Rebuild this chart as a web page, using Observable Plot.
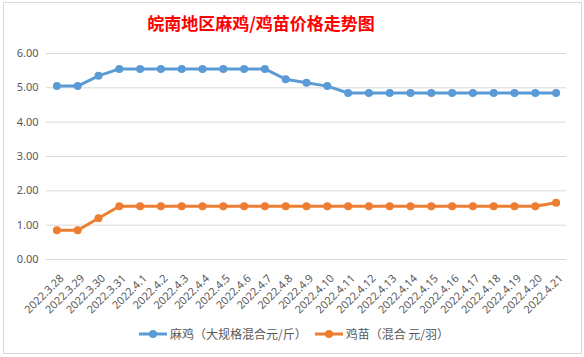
<!DOCTYPE html>
<html><head><meta charset="utf-8">
<script src="https://cdn.jsdelivr.net/npm/d3@7"></script>
<script src="https://cdn.jsdelivr.net/npm/@observablehq/plot@0.6"></script>
<style>
html,body{margin:0;padding:0;background:#fff;}
body{width:584px;height:357px;position:relative;overflow:hidden;font-family:"Noto Sans CJK SC","Noto Sans",sans-serif;}
#frame{position:absolute;left:3px;top:2px;width:577px;height:350px;border:1px solid #d9d9d9;}
#title{position:absolute;left:0;top:10px;width:522px;text-align:center;color:#ff0000;font-size:17px;font-weight:bold;}
#chart{position:absolute;left:0;top:0;}
#legend{position:absolute;left:0;top:325px;width:584px;box-sizing:border-box;padding-left:12px;display:flex;justify-content:center;font-size:12px;color:#595959;}
#legend .item{display:flex;align-items:center;gap:3px;margin-right:8px;}
</style></head>
<body>
<div id="frame"></div>
<div id="chart"></div>
<div id="title">皖南地区麻鸡/鸡苗价格走势图</div>
<div id="legend"></div>
<script>
const dates = ["2022.3.28","2022.3.29","2022.3.30","2022.3.31","2022.4.1","2022.4.2","2022.4.3","2022.4.4","2022.4.5","2022.4.6","2022.4.7","2022.4.8","2022.4.9","2022.4.10","2022.4.11","2022.4.12","2022.4.13","2022.4.14","2022.4.15","2022.4.16","2022.4.17","2022.4.18","2022.4.19","2022.4.20","2022.4.21"];
const majiPrice = [5.05,5.05,5.35,5.55,5.55,5.55,5.55,5.55,5.55,5.55,5.55,5.25,5.15,5.05,4.85,4.85,4.85,4.85,4.85,4.85,4.85,4.85,4.85,4.85,4.85];
const jimiaoPrice = [0.85,0.85,1.2,1.55,1.55,1.55,1.55,1.55,1.55,1.55,1.55,1.55,1.55,1.55,1.55,1.55,1.55,1.55,1.55,1.55,1.55,1.55,1.55,1.55,1.65];
const seriesNames = ["麻鸡（大规格混合元/斤）","鸡苗（混合 元/羽）"];
const seriesColors = ["#5b9bd5","#ed7d31"];
const yTicks = [0,1,2,3,4,5,6];

const data = [];
dates.forEach((d,i)=>{
  data.push({date:d, value:majiPrice[i], series:seriesNames[0]});
  data.push({date:d, value:jimiaoPrice[i], series:seriesNames[1]});
});

const chart = Plot.plot({
  width:584, height:357,
  marginLeft:46, marginRight:18, marginTop:53, marginBottom:98,
  style:{color:"#595959", fontSize:"11px", fontFamily:"'Noto Sans','Noto Sans CJK SC',sans-serif", background:"transparent", overflow:"visible"},
  x:{type:"point", domain:dates, padding:0.5, round:false, label:null},
  y:{domain:[0,6], label:null},
  color:{domain:seriesNames, range:seriesColors},
  marks:[
    Plot.gridY(yTicks,{stroke:"#d9d9d9", strokeOpacity:1, strokeWidth:1}),
    Plot.axisY(yTicks,{tickSize:0, tickPadding:8, tickFormat:d=>d.toFixed(2), label:null}),
    Plot.axisX({tickSize:0, tickPadding:12, dx:5, dy:5, tickRotate:-45, label:null}),
    Plot.line(data,{x:"date", y:"value", z:"series", stroke:"series", strokeWidth:3}),
    Plot.dot(data,{x:"date", y:"value", fill:"series", r:4})
  ]
});
document.getElementById("chart").appendChild(chart);

const legend = document.getElementById("legend");
seriesNames.forEach((name,i)=>{
  const item = document.createElement("div");
  item.className = "item";
  item.innerHTML = `<svg width="28" height="10"><line x1="0" y1="5" x2="28" y2="5" stroke="${seriesColors[i]}" stroke-width="3"/><circle cx="14" cy="5" r="4" fill="${seriesColors[i]}"/></svg><span>${name}</span>`;
  legend.appendChild(item);
});
</script>
</body></html>
